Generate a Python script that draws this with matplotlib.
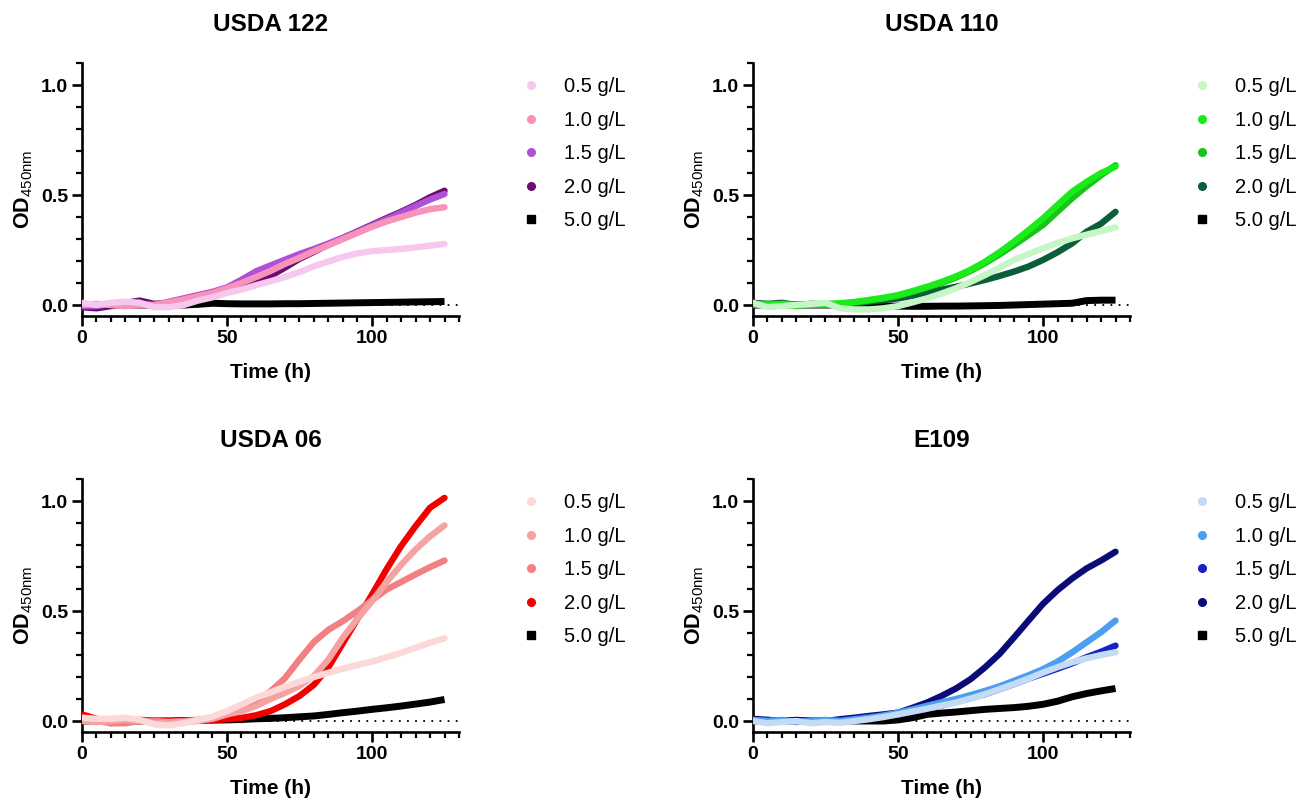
import matplotlib
matplotlib.use('Agg')
import matplotlib.pyplot as plt
from matplotlib.lines import Line2D
from matplotlib.ticker import MultipleLocator, FormatStrFormatter

plt.rcParams['font.family'] = ['Liberation Sans', 'DejaVu Sans']
plt.rcParams['mathtext.fontset'] = 'custom'
plt.rcParams['mathtext.rm'] = 'Liberation Sans'
plt.rcParams['mathtext.bf'] = 'Liberation Sans:bold'

# time points (h)
time_h = [0, 5, 10, 15, 20, 25, 30, 35, 40, 45, 50, 55, 60, 65, 70, 75, 80, 85, 90, 95, 100, 105, 110, 115, 120, 125]
conc_labels = ['0.5 g/L', '1.0 g/L', '1.5 g/L', '2.0 g/L', '5.0 g/L']

# USDA 122
usda122_05 = [0.01, 0.0, 0.01, 0.015, 0.01, -0.01, -0.01, 0.0, 0.02, 0.035, 0.055, 0.07, 0.09, 0.108, 0.127, 0.15, 0.176, 0.198, 0.219, 0.235, 0.245, 0.25, 0.255, 0.262, 0.27, 0.278]
usda122_10 = [0.0, 0.005, 0.0, -0.005, 0.0, 0.0, 0.012, 0.025, 0.04, 0.055, 0.076, 0.1, 0.127, 0.155, 0.187, 0.215, 0.245, 0.272, 0.30, 0.328, 0.356, 0.38, 0.40, 0.42, 0.436, 0.445]
usda122_15 = [-0.005, -0.005, 0.005, 0.01, 0.005, 0.0, 0.015, 0.03, 0.045, 0.06, 0.08, 0.115, 0.153, 0.18, 0.206, 0.232, 0.255, 0.28, 0.306, 0.333, 0.362, 0.39, 0.42, 0.45, 0.48, 0.505]
usda122_20 = [-0.01, -0.015, -0.005, 0.01, 0.02, 0.005, 0.01, 0.02, 0.035, 0.05, 0.07, 0.085, 0.105, 0.132, 0.17, 0.21, 0.242, 0.275, 0.305, 0.335, 0.365, 0.395, 0.424, 0.455, 0.49, 0.52]
usda122_50 = [0.0, 0.0, 0.0, 0.0, 0.0, 0.0, 0.0, 0.0, 0.003, 0.008, 0.006, 0.005, 0.005, 0.005, 0.006, 0.006, 0.007, 0.008, 0.009, 0.01, 0.011, 0.012, 0.013, 0.014, 0.015, 0.016]

# USDA 110
usda110_05 = [0.01, -0.01, -0.005, 0.0, 0.005, 0.01, -0.015, -0.02, -0.02, -0.015, -0.005, 0.012, 0.03, 0.052, 0.076, 0.105, 0.136, 0.17, 0.205, 0.232, 0.258, 0.282, 0.303, 0.32, 0.336, 0.353]
usda110_10 = [0.005, 0.0, 0.005, 0.0, 0.0, 0.005, 0.008, 0.014, 0.023, 0.033, 0.045, 0.063, 0.083, 0.105, 0.13, 0.16, 0.197, 0.24, 0.288, 0.34, 0.394, 0.455, 0.515, 0.56, 0.6, 0.63]
usda110_15 = [0.0, 0.005, 0.0, -0.005, 0.005, 0.0, 0.005, 0.012, 0.02, 0.03, 0.042, 0.06, 0.08, 0.1, 0.125, 0.155, 0.19, 0.23, 0.273, 0.318, 0.364, 0.425, 0.485, 0.54, 0.59, 0.636]
usda110_20 = [0.01, 0.005, 0.01, 0.0, 0.005, 0.005, 0.0, 0.008, 0.015, 0.022, 0.03, 0.042, 0.056, 0.07, 0.083, 0.098, 0.114, 0.132, 0.152, 0.175, 0.205, 0.24, 0.28, 0.333, 0.37, 0.424]
usda110_50 = [0.0, 0.0, 0.0, 0.0, 0.0, 0.0, 0.0, 0.0, 0.0, -0.005, -0.005, -0.006, -0.006, -0.005, -0.005, -0.004, -0.003, -0.002, 0.0, 0.002, 0.004, 0.006, 0.008, 0.02, 0.022, 0.022]

# USDA 06
usda06_05 = [0.015, 0.01, 0.01, 0.015, 0.005, -0.015, -0.02, -0.01, 0.005, 0.02, 0.045, 0.075, 0.106, 0.13, 0.156, 0.178, 0.2, 0.22, 0.238, 0.255, 0.27, 0.29, 0.31, 0.333, 0.356, 0.376]
usda06_10 = [0.0, -0.005, 0.0, 0.005, 0.0, -0.01, -0.005, -0.005, 0.0, 0.01, 0.03, 0.045, 0.068, 0.1, 0.128, 0.16, 0.205, 0.28, 0.38, 0.465, 0.545, 0.632, 0.71, 0.78, 0.84, 0.89]
usda06_15 = [0.005, 0.0, -0.01, -0.01, 0.0, 0.0, -0.005, 0.0, 0.005, 0.015, 0.038, 0.06, 0.09, 0.135, 0.195, 0.28, 0.36, 0.415, 0.455, 0.5, 0.55, 0.598, 0.632, 0.667, 0.70, 0.73]
usda06_20 = [0.03, 0.01, -0.01, 0.0, 0.005, 0.0, 0.0, 0.0, 0.002, 0.005, 0.008, 0.014, 0.026, 0.045, 0.076, 0.114, 0.165, 0.245, 0.355, 0.465, 0.575, 0.69, 0.795, 0.886, 0.97, 1.015]
usda06_50 = [0.0, 0.0, 0.0, 0.0, 0.0, 0.0, 0.0, 0.002, 0.003, 0.004, 0.005, 0.007, 0.01, 0.012, 0.015, 0.019, 0.023, 0.03, 0.038, 0.045, 0.053, 0.06, 0.068, 0.077, 0.086, 0.098]

# E109
e109_05 = [0.0, -0.01, -0.005, 0.0, -0.01, -0.005, -0.008, 0.0, 0.008, 0.018, 0.03, 0.043, 0.056, 0.07, 0.084, 0.102, 0.122, 0.145, 0.168, 0.193, 0.22, 0.245, 0.267, 0.285, 0.30, 0.313]
e109_10 = [0.005, 0.0, 0.005, -0.005, 0.0, 0.005, 0.0, 0.008, 0.015, 0.025, 0.038, 0.053, 0.069, 0.085, 0.1, 0.118, 0.137, 0.158, 0.183, 0.208, 0.236, 0.27, 0.312, 0.358, 0.404, 0.457]
e109_15 = [0.0, 0.005, 0.0, 0.0, -0.005, 0.0, 0.003, 0.01, 0.018, 0.025, 0.03, 0.043, 0.056, 0.07, 0.087, 0.104, 0.122, 0.145, 0.168, 0.193, 0.215, 0.238, 0.262, 0.29, 0.315, 0.343]
e109_20 = [0.01, 0.005, 0.0, 0.005, 0.0, 0.0, 0.008, 0.015, 0.023, 0.03, 0.038, 0.06, 0.084, 0.114, 0.148, 0.19, 0.244, 0.305, 0.38, 0.457, 0.533, 0.595, 0.648, 0.694, 0.73, 0.77]
e109_50 = [0.0, 0.0, 0.0, 0.0, 0.0, 0.0, 0.0, 0.0, 0.0, 0.0, 0.005, 0.015, 0.03, 0.036, 0.041, 0.047, 0.053, 0.057, 0.061, 0.067, 0.076, 0.09, 0.11, 0.125, 0.137, 0.148]

colors_122 = ['#f6c8ee', '#f792b8', '#b24fd8', '#6b0b70', 'black']
colors_110 = ['#c6f5c6', '#19ec19', '#17c417', '#0b5e3a', 'black']
colors_06 = ['#fcd8d8', '#f5a2a2', '#f38080', '#f20000', 'black']
colors_e109 = ['#c4dbf5', '#4c9ff0', '#1622c8', '#0b0b78', 'black']

panels = [
    ('USDA 122', [usda122_05, usda122_10, usda122_15, usda122_20, usda122_50], colors_122),
    ('USDA 110', [usda110_05, usda110_10, usda110_15, usda110_20, usda110_50], colors_110),
    ('USDA 06', [usda06_05, usda06_10, usda06_15, usda06_20, usda06_50], colors_06),
    ('E109', [e109_05, e109_10, e109_15, e109_20, e109_50], colors_e109),
]

fig = plt.figure(figsize=(13.07, 8.0), dpi=100)
fig.set_facecolor('white')

# axes rects [left, bottom, width, height] in figure fraction
rects = [
    [0.0627, 0.605, 0.2885, 0.316],
    [0.5761, 0.605, 0.2885, 0.316],
    [0.0627, 0.085, 0.2885, 0.316],
    [0.5761, 0.085, 0.2885, 0.316],
]


def draw_panel(ax, title, series, colors):
    # dotted baseline at 0
    ax.plot([0, 130], [0, 0], ls=(0, (1, 3.5)), color='black', lw=1.3, zorder=1)

    # draw high concentration first so the low ones sit on top
    for i in reversed(range(len(series))):
        if i == 4:
            ax.plot(time_h, series[i], color=colors[i], lw=5, solid_capstyle='butt', zorder=2)
        else:
            ax.plot(time_h, series[i], color=colors[i], lw=4.6, solid_capstyle='round',
                    solid_joinstyle='round', zorder=3 + (4 - i))

    ax.set_xlim(0, 130)
    ax.set_ylim(-0.05, 1.1)
    ax.spines['top'].set_visible(False)
    ax.spines['right'].set_visible(False)
    ax.spines['left'].set_linewidth(1.9)
    ax.spines['bottom'].set_linewidth(1.9)

    ax.xaxis.set_major_locator(MultipleLocator(50))
    ax.xaxis.set_minor_locator(MultipleLocator(5))
    ax.yaxis.set_major_locator(MultipleLocator(0.5))
    ax.yaxis.set_minor_locator(MultipleLocator(0.1))
    ax.yaxis.set_major_formatter(FormatStrFormatter('%.1f'))
    ax.tick_params(which='major', length=7, width=1.9, labelsize=14, pad=3)
    ax.tick_params(which='minor', length=4.5, width=1.6)
    for lab in ax.get_xticklabels() + ax.get_yticklabels():
        lab.set_fontweight('bold')

    ax.set_title(title, fontsize=17.5, fontweight='bold', pad=23)
    ax.set_xlabel('Time (h)', fontsize=15, fontweight='bold')
    ax.xaxis.set_label_coords(0.5, -0.185)
    ax.set_ylabel(r'$\mathbf{OD}_{\mathrm{450nm}}$', fontsize=15.5)
    ax.yaxis.set_label_coords(-0.125, 0.5)

    handles = []
    for i, c in enumerate(colors):
        mk = 's' if i == 4 else 'o'
        handles.append(Line2D([], [], ls='none', marker=mk, ms=5.5, color=c))
    ax.legend(handles, conc_labels, loc='upper left', bbox_to_anchor=(1.165, 0.945),
              frameon=False, fontsize=14.5, handlelength=1.0, handletextpad=1.1,
              labelspacing=0.72, borderpad=0, borderaxespad=0)


for rect, (title, series, colors) in zip(rects, panels):
    ax = fig.add_axes(rect)
    draw_panel(ax, title, series, colors)

fig.savefig('out.png', dpi=100)
